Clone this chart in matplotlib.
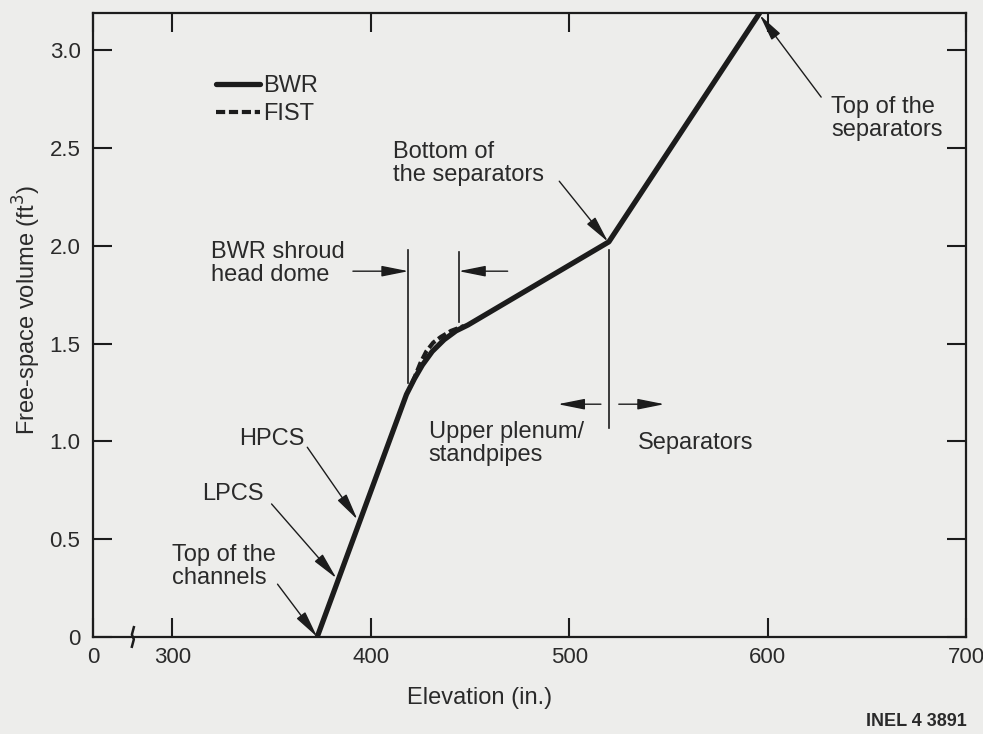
"""
Free-space volume vs elevation, BWR and FIST
"""

import matplotlib
matplotlib.use('Agg')
import matplotlib.pyplot as plt

plt.rcParams['font.family'] = ['Liberation Sans', 'DejaVu Sans']

# Data
BWR_ELEV = [373, 418, 422, 426, 431, 437, 443, 449, 520, 596]
BWR_VOL = [0.0, 1.24, 1.32, 1.39, 1.46, 1.52, 1.565, 1.595, 2.02, 3.19]

FIST_ELEV = [421, 425, 428, 431.5, 435.5, 440.5, 447]
FIST_VOL = [1.30, 1.40, 1.46, 1.505, 1.535, 1.565, 1.59]

X_TICKS = [260, 300, 400, 500, 600, 700]
X_TICK_LABELS = ['0', '300', '400', '500', '600', '700']
Y_TICKS = [0, 0.5, 1.0, 1.5, 2.0, 2.5, 3.0]
Y_TICK_LABELS = ['0', '0.5', '1.0', '1.5', '2.0', '2.5', '3.0']

BG = '#ededeb'
INK = '#1c1c1c'
TXT = '#2a2a2a'
FS = 17

ARROW = dict(arrowstyle='-|>,head_length=1.1,head_width=0.22',
             color=INK, lw=1.0, mutation_scale=15, shrinkA=0, shrinkB=0)


def leader(ax, text, text_xy, tail, tip, **kw):
    """Text label plus a thin leader arrow"""
    ax.text(text_xy[0], text_xy[1], text, fontsize=FS, color=TXT,
            va='center', ha='left', linespacing=1.05, **kw)
    ax.annotate('', xy=tip, xytext=tail, arrowprops=ARROW)


def main():
    fig = plt.figure(figsize=(9.83, 7.34), dpi=100, facecolor=BG)
    ax = fig.add_axes([0.0946, 0.1322, 0.8881, 0.8501], facecolor=BG)

    ax.plot(BWR_ELEV, BWR_VOL, color=INK, lw=3.8, solid_joinstyle='round',
            solid_capstyle='round', label='BWR', zorder=3)
    ax.plot(FIST_ELEV, FIST_VOL, color=INK, lw=3.0, dashes=(2.2, 0.9),
            label='FIST', zorder=4)

    ax.set_xlim(260, 700)
    ax.set_ylim(0, 3.19)
    ax.set_xticks(X_TICKS)
    ax.set_xticklabels(X_TICK_LABELS)
    ax.set_yticks(Y_TICKS)
    ax.set_yticklabels(Y_TICK_LABELS)
    ax.tick_params(direction='in', length=14, width=1.5, color=INK,
                   labelsize=16, labelcolor=TXT, top=True, right=True)
    ax.tick_params(axis='x', pad=7)
    ax.tick_params(axis='y', pad=9)
    for s in ax.spines.values():
        s.set_linewidth(1.6)
        s.set_color(INK)

    # axis break mark
    ax.plot([280.6, 279.6, 280.6, 279.6], [0.05, 0.012, -0.012, -0.05],
            color=INK, lw=1.8, clip_on=False, zorder=5)

    leg = ax.legend(loc='upper left', bbox_to_anchor=(0.141, 0.90),
                    frameon=False, fontsize=FS, handlelength=1.85,
                    handletextpad=0.15, labelspacing=0.25, borderpad=0,
                    borderaxespad=0)
    for t in leg.get_texts():
        t.set_color(TXT)

    # labels with leader arrows
    leader(ax, 'Top of the\nchannels', (300, 0.36), (353, 0.27), (373, 0.0))
    leader(ax, 'LPCS', (315, 0.73), (350, 0.68), (382.7, 0.30))
    leader(ax, 'HPCS', (333.7, 1.01), (368, 0.97), (393.3, 0.60))
    leader(ax, 'Bottom of\nthe separators', (411, 2.42), (495, 2.33),
           (519.6, 2.02))
    leader(ax, 'Top of the\nseparators', (632, 2.65), (627, 2.76),
           (596, 3.18))

    # shroud head dome bracket
    ax.text(319.5, 1.91, 'BWR shroud\nhead dome', fontsize=FS, color=TXT,
            va='center', ha='left', linespacing=1.05)
    ax.plot([419, 419], [1.30, 1.98], color=INK, lw=1.2)
    ax.plot([444.3, 444.3], [1.61, 1.97], color=INK, lw=1.2)
    ax.annotate('', xy=(419, 1.87), xytext=(391, 1.87), arrowprops=ARROW)
    ax.annotate('', xy=(444.3, 1.87), xytext=(469, 1.87), arrowprops=ARROW)

    # upper plenum / separators boundary
    ax.plot([520, 520], [1.07, 1.98], color=INK, lw=1.2)
    ax.annotate('', xy=(494.3, 1.19), xytext=(516, 1.19), arrowprops=ARROW)
    ax.annotate('', xy=(548, 1.19), xytext=(525, 1.19), arrowprops=ARROW)
    ax.text(429.2, 0.99, 'Upper plenum/\nstandpipes', fontsize=FS, color=TXT,
            va='center', ha='left', linespacing=1.05)
    ax.text(534.7, 0.99, 'Separators', fontsize=FS, color=TXT,
            va='center', ha='left')

    fig.text(480 / 983, 1 - 698 / 734, 'Elevation (in.)', fontsize=FS,
             color=TXT, ha='center', va='center')
    fig.text(27 / 983, 1 - 310 / 734, 'Free-space volume (ft$^3$)',
             fontsize=FS, color=TXT, ha='center', va='center', rotation=90)
    fig.text(967 / 983, 1 - 722 / 734, 'INEL 4 3891', fontsize=13,
             fontweight='bold', color=TXT, ha='right', va='center')

    fig.savefig('out.png', dpi=100, facecolor=BG)


if __name__ == '__main__':
    main()
